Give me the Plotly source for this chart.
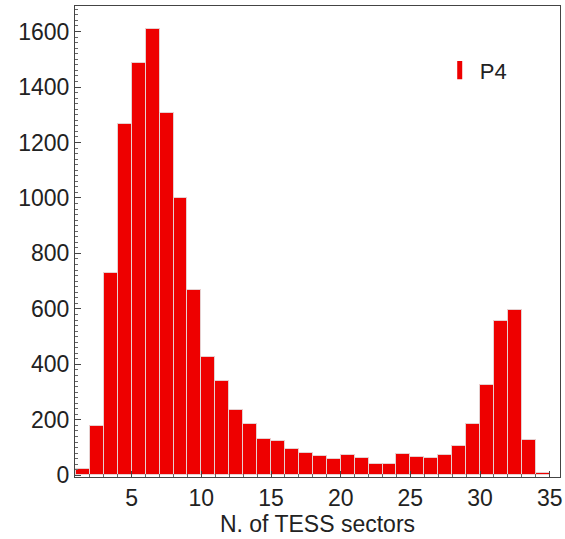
import plotly.graph_objects as go

sectors = list(range(1, 35))
counts = [22, 178, 728, 1268, 1488, 1610, 1308, 1000, 667, 428,
          339, 236, 185, 130, 122, 95, 80, 68, 58, 72,
          61, 40, 40, 77, 65, 62, 74, 107, 184, 325,
          556, 596, 126, 8]
series_name = "P4"
x_ticks = [5, 10, 15, 20, 25, 30, 35]
y_ticks = [0, 200, 400, 600, 800, 1000, 1200, 1400, 1600]

bar_color = "#ee0000"

fig = go.Figure()
fig.add_trace(go.Bar(
    x=sectors, y=counts, name=series_name, showlegend=False,
    width=1, offset=0,
    marker=dict(color=bar_color, line=dict(color="#e6d0d0", width=1)),
))
# legend-only entry with a narrow vertical swatch
fig.add_trace(go.Scatter(
    x=[None], y=[None], mode="markers", name=series_name,
    marker=dict(symbol="line-ns", size=13, color=bar_color,
                line=dict(color=bar_color, width=7)),
))

font_family = "Liberation Sans, Arial, sans-serif"
fig.update_layout(
    width=565, height=539,
    margin=dict(l=75, r=3, t=6, b=62),
    plot_bgcolor="white", paper_bgcolor="white",
    bargap=0,
    font=dict(family=font_family, size=23, color="#222"),
    showlegend=True,
    legend=dict(x=0.752, y=0.908, xanchor="left", yanchor="top",
                bgcolor="rgba(0,0,0,0)", font=dict(size=22)),
)
fig.update_xaxes(
    range=[0.93, 35.74], tickvals=x_ticks,
    ticks="inside", ticklen=6, tickcolor="#444",
    minor=dict(dtick=1, ticks="inside", ticklen=3, tickcolor="#666"),
    showline=True, linecolor="#444", linewidth=1, mirror=True,
    showgrid=False, zeroline=False,
    title=dict(text="N. of TESS sectors", font=dict(size=23), standoff=4),
)
fig.update_yaxes(
    range=[-6, 1692], tickvals=y_ticks,
    ticks="inside", ticklen=6, tickcolor="#444",
    minor=dict(dtick=20, ticks="inside", ticklen=3, tickcolor="#666"),
    showline=True, linecolor="#444", linewidth=1, mirror=True,
    showgrid=False, zeroline=False,
)
fig.write_html("out.html", config={"displayModeBar": False},
               post_script="document.body.style.margin='0';")
